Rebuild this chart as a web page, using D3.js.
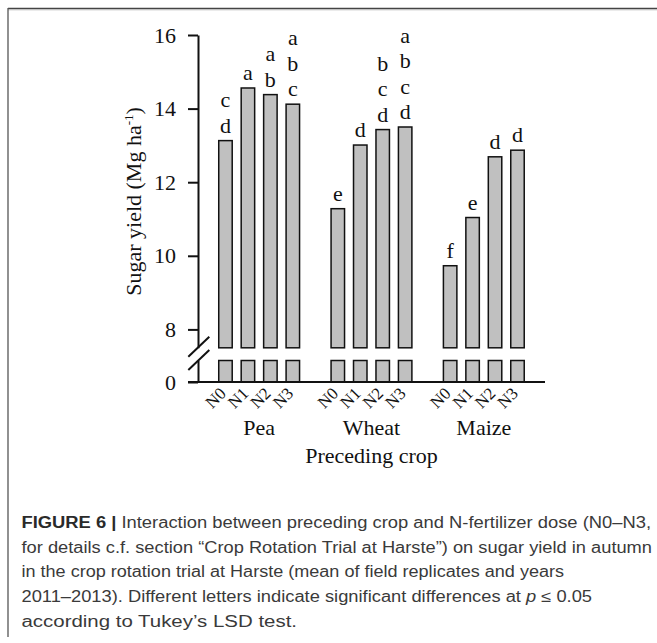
<!DOCTYPE html>
<html>
<head>
<meta charset="utf-8">
<script src="https://cdn.jsdelivr.net/npm/d3@7"></script>
<style>
  html, body { margin: 0; padding: 0; background: #fff; }
  svg { display: block; }
</style>
</head>
<body>
<script>
// ---- data ----
const crops = ["Pea", "Wheat", "Maize"];
const doses = ["N0", "N1", "N2", "N3"];
const peaYield = [13.13, 14.56, 14.38, 14.12];
const wheatYield = [11.28, 13.01, 13.43, 13.50];
const maizeYield = [9.73, 11.04, 12.69, 12.87];
const peaLetters = ["cd", "a", "ab", "abc"];
const wheatLetters = ["e", "d", "bcd", "abcd"];
const maizeLetters = ["f", "e", "d", "d"];
const yTicksUpper = [8, 10, 12, 14, 16];
const yTicksLower = [0];
const yLabel = "Sugar yield (Mg ha";
const yLabelSup = "-1";
const xLabel = "Preceding crop";
const captionLines = [
  { bold: "FIGURE 6 | ", text: "Interaction between preceding crop and N-fertilizer dose (N0\u2013N3,", end: 651 },
  { bold: "", text: "for details c.f. section \u201cCrop Rotation Trial at Harste\u201d) on sugar yield in autumn", end: 652 },
  { bold: "", text: "in the crop rotation trial at Harste (mean of field replicates and years", end: 564 },
  { bold: "", text: "2011\u20132013). Different letters indicate significant differences at ", italic: "p", tail: " \u2264 0.05", end: 592 },
  { bold: "", text: "according to Tukey\u2019s LSD test.", end: 297 }
];

const yieldsByCrop = { Pea: peaYield, Wheat: wheatYield, Maize: maizeYield };
const lettersByCrop = { Pea: peaLetters, Wheat: wheatLetters, Maize: maizeLetters };
const rows = [];
crops.forEach(c => doses.forEach((d, i) => rows.push({ crop: c, dose: d, value: yieldsByCrop[c][i], letters: lettersByCrop[c][i] })));

// ---- layout ----
const W = 657, H = 643;
const svg = d3.select("body").append("svg").attr("width", W).attr("height", H);
const serif = "'Liberation Serif', 'Times New Roman', serif";

// frame
svg.append("line").attr("x1", 8).attr("x2", W).attr("y1", 8.5).attr("y2", 8.5).attr("stroke", "#444").attr("stroke-width", 1.5);
svg.append("line").attr("x1", 8).attr("x2", W).attr("y1", 9.8).attr("y2", 9.8).attr("stroke", "#bbb").attr("stroke-width", 1);
svg.append("line").attr("x1", 8).attr("x2", 8).attr("y1", 8).attr("y2", 637).attr("stroke", "#555").attr("stroke-width", 1.3);

const axisX = 198;
const baseY = 382;
const breakVal = 7.5;

const yTop = d3.scaleLinear().domain([breakVal, 16]).range([347.8, 35]);
const yLow = d3.scaleLinear().domain([0, 1]).range([baseY, 360.5]);

const x0 = d3.scaleBand().domain(crops).range([203, 540]).padding(0);
const x1 = d3.scaleBand().domain(doses).range([11.25, 101.05]).paddingInner(0.4).paddingOuter(0.2);

const g = svg.append("g");

// bars
const barG = g.selectAll("g.bar").data(rows).join("g").attr("class", "bar")
  .attr("transform", d => `translate(${x0(d.crop) + x1(d.dose)},0)`);
barG.append("rect")
  .attr("x", 0).attr("width", x1.bandwidth())
  .attr("y", d => yTop(d.value)).attr("height", d => yTop(breakVal) - yTop(d.value))
  .attr("fill", "#c0c0c0").attr("stroke", "#111").attr("stroke-width", 1.5);
barG.append("rect")
  .attr("x", 0).attr("width", x1.bandwidth())
  .attr("y", yLow(1)).attr("height", yLow(0) - yLow(1))
  .attr("fill", "#c0c0c0").attr("stroke", "#111").attr("stroke-width", 1.5);

// significance letters
barG.each(function(d) {
  const sel = d3.select(this);
  const L = d.letters.split("");
  const n = L.length;
  L.forEach((ch, k) => {
    sel.append("text")
      .attr("x", x1.bandwidth() / 2)
      .attr("y", yTop(d.value) - 8 - (n - 1 - k) * 25.5)
      .attr("text-anchor", "middle")
      .attr("font-family", serif).attr("font-size", 22)
      .attr("fill", "#111")
      .text(ch);
  });
});

// y axis upper
const yAxisUp = g.append("g").attr("transform", `translate(${axisX},0)`)
  .call(d3.axisLeft(yTop).tickValues(yTicksUpper).tickSize(10).tickSizeOuter(0).tickPadding(12).tickFormat(d3.format("d")));
const yAxisLow = g.append("g").attr("transform", `translate(${axisX},0)`)
  .call(d3.axisLeft(yLow).tickValues(yTicksLower).tickSize(10).tickSizeOuter(0).tickPadding(12).tickFormat(d3.format("d")));
[yAxisUp, yAxisLow].forEach(a => {
  a.attr("font-family", serif).attr("font-size", 22);
  a.selectAll("path, line").attr("stroke", "#111").attr("stroke-width", 2);
  a.selectAll("text").attr("font-family", serif).attr("font-size", 22).attr("fill", "#111");
});

// break marks
[[356.7, 336.7], [370, 350]].forEach(([y1, y2]) => {
  g.append("line").attr("x1", 188.3).attr("y1", y1).attr("x2", 209.3).attr("y2", y2)
    .attr("stroke", "#111").attr("stroke-width", 2);
});

// x axis baseline
g.append("line").attr("x1", 188).attr("x2", 545).attr("y1", baseY).attr("y2", baseY)
  .attr("stroke", "#111").attr("stroke-width", 2);

// dose tick labels per crop
crops.forEach(c => {
  const ax = g.append("g").attr("transform", `translate(${x0(c)},${baseY})`)
    .call(d3.axisBottom(x1).tickSize(0));
  ax.attr("font-family", serif).attr("font-size", 17);
  ax.select(".domain").remove();
  ax.selectAll("text")
    .attr("font-family", serif).attr("font-size", 17).attr("fill", "#111")
    .attr("text-anchor", "end").attr("x", 0).attr("y", 0).attr("dy", 0)
    .attr("transform", "translate(1.5,12.5) rotate(-45)");
  g.append("text")
    .attr("x", x0(c) + x0.bandwidth() / 2).attr("y", 435)
    .attr("text-anchor", "middle").attr("font-family", serif).attr("font-size", 22).attr("fill", "#111")
    .text(c);
});

// axis titles
g.append("text").attr("x", (x0.range()[0] + x0.range()[1]) / 2).attr("y", 463)
  .attr("text-anchor", "middle").attr("font-family", serif).attr("font-size", 22).attr("fill", "#111")
  .text(xLabel);
const yl = g.append("text").attr("transform", "translate(141,201.5) rotate(-90)")
  .attr("text-anchor", "middle").attr("font-family", serif).attr("font-size", 22).attr("fill", "#111");
yl.append("tspan").text(yLabel);
yl.append("tspan").attr("font-size", 13).attr("dy", -8).text(yLabelSup);
yl.append("tspan").attr("dy", 8).text(")");

// caption
const capX = 21.5;
captionLines.forEach((ln, i) => {
  const t = svg.append("text").attr("x", capX).attr("y", 528 + i * 24.7)
    .attr("font-family", "'Liberation Sans', Arial, sans-serif").attr("font-size", 16).attr("fill", "#3a3a3a");
  if (ln.bold) t.append("tspan").attr("font-weight", "bold").attr("fill", "#2a2a2a").text(ln.bold);
  t.append("tspan").text(ln.text);
  if (ln.italic) t.append("tspan").attr("font-style", "italic").text(ln.italic);
  if (ln.tail) t.append("tspan").text(ln.tail);
  t.attr("textLength", ln.end - capX).attr("lengthAdjust", "spacingAndGlyphs");
});
</script>
</body>
</html>
